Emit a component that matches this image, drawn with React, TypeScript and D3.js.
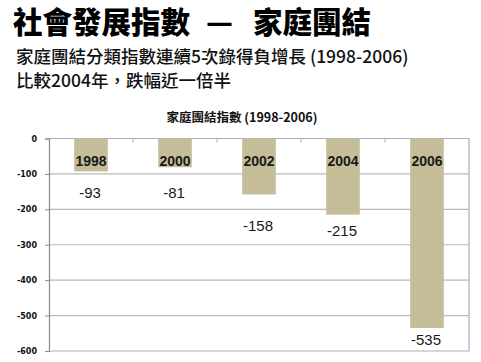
import { useEffect, useRef } from 'react';
import * as d3 from 'd3';

// data
const years = ['1998', '2000', '2002', '2004', '2006'];
const values = [-93, -81, -158, -215, -535];
// where each hand-placed value label sits, in index units
const valueLabelAt = [-168, -168, -261, -275, -583];
const yTicks = [0, -100, -200, -300, -400, -500, -600];

const titleParts = ['社會發展指數', '—', '家庭團結'];
const subLines = ['家庭團結分類指數連續5次錄得負增長 (1998-2006)', '比較2004年，跌幅近一倍半'];
const chartTitle = '家庭團結指數 (1998-2006)';

const W = 481;
const H = 362;
const CJK = '"Noto Sans CJK TC", "Noto Sans CJK SC", sans-serif';

export default function App() {
  const ref = useRef<SVGSVGElement>(null);

  useEffect(() => {
    const svg = d3.select(ref.current);
    svg.selectAll('*').remove();

    const left = 49, right = 469, top = 138.5, bottom = 351;

    const x = d3.scaleBand().domain(years).range([left, right]).paddingInner(0.6).paddingOuter(0.3);
    const y = d3.scaleLinear().domain([-600, 0]).range([bottom, top]);
    const fmt = (d: any) => String(d);

    // headings
    const t = svg.append('text')
      .attr('y', 33)
      .style('font-family', CJK).style('font-weight', 900).style('font-size', '29.5px')
      .attr('fill', '#000');
    const titleX = [13, 206, 253];
    t.selectAll('tspan').data(titleParts).enter().append('tspan')
      .attr('x', (d: any, i: number) => titleX[i])
      .text((d: any) => d);

    svg.selectAll('.sub').data(subLines).enter().append('text')
      .attr('class', 'sub')
      .attr('x', 16).attr('y', (d: any, i: number) => 63 + i * 24)
      .style('font-family', CJK).style('font-weight', 500).style('font-size', '17.5px')
      .attr('fill', '#111')
      .text((d: any) => d);

    svg.append('text')
      .attr('x', 242).attr('y', 122)
      .attr('text-anchor', 'middle')
      .style('font-family', CJK).style('font-weight', 700).style('font-size', '12.5px')
      .attr('fill', '#111')
      .text(chartTitle);

    // gridlines
    svg.selectAll('.grid').data(yTicks.filter(v => v !== 0 && v !== -600)).enter().append('line')
      .attr('class', 'grid')
      .attr('x1', left).attr('x2', right)
      .attr('y1', (d: any) => y(d)).attr('y2', (d: any) => y(d))
      .attr('stroke', '#b8b8b8').attr('stroke-width', 1.2);

    // plot border (top / right / bottom)
    svg.append('path')
      .attr('d', `M${left},${y(0)}H${right}V${y(-600)}H${left}`)
      .attr('fill', 'none').attr('stroke', '#9fb2c8').attr('stroke-width', 1.2);

    // bars
    svg.selectAll('.bar').data(values).enter().append('rect')
      .attr('class', 'bar')
      .attr('x', (d: any, i: number) => x(years[i]) as number)
      .attr('width', x.bandwidth())
      .attr('y', y(0))
      .attr('height', (d: any) => y(d) - y(0))
      .attr('fill', '#c4bd97');

    // category ticks along the zero line
    const ticksX = d3.range(1, years.length).map(i => left + i * x.step());
    svg.selectAll('.ctick').data(ticksX).enter().append('line')
      .attr('class', 'ctick')
      .attr('x1', (d: any) => d).attr('x2', (d: any) => d)
      .attr('y1', y(0)).attr('y2', y(0) + 4)
      .attr('stroke', '#9fb2c8');

    // y axis
    const yAxis = svg.append('g').attr('transform', `translate(${left},0)`)
      .call(d3.axisLeft(y).tickValues(yTicks).tickSize(4).tickPadding(8).tickFormat(fmt));
    yAxis.select('.domain').attr('stroke', '#8a8a8a').attr('stroke-width', 1.2);
    yAxis.selectAll('.tick line').attr('stroke', '#8a8a8a');
    yAxis.selectAll('.tick text')
      .style('font-family', '"DejaVu Sans", sans-serif').style('font-weight', 700).style('font-size', '8px')
      .attr('fill', '#111');

    // year labels inside bars
    svg.selectAll('.yr').data(years).enter().append('text')
      .attr('class', 'yr')
      .attr('x', (d: any) => (x(d) as number) + x.bandwidth() / 2)
      .attr('y', 166)
      .attr('text-anchor', 'middle')
      .style('font-family', '"Liberation Sans", Arial, sans-serif').style('font-weight', 700).style('font-size', '14px')
      .attr('fill', '#1a1a1a')
      .text((d: any) => d);

    // value labels under bars
    svg.selectAll('.val').data(values).enter().append('text')
      .attr('class', 'val')
      .attr('x', (d: any, i: number) => (x(years[i]) as number) + x.bandwidth() / 2 - 1)
      .attr('y', (d: any, i: number) => y(valueLabelAt[i]))
      .attr('text-anchor', 'middle')
      .style('font-family', '"Liberation Sans", Arial, sans-serif').style('font-size', '15px')
      .attr('fill', '#1a1a1a')
      .text(fmt);
  }, []);

  return (
    <svg
      ref={ref}
      width={W}
      height={H}
      style={{ position: 'absolute', left: 0, top: 0, background: '#fff', display: 'block' }}
    />
  );
}
